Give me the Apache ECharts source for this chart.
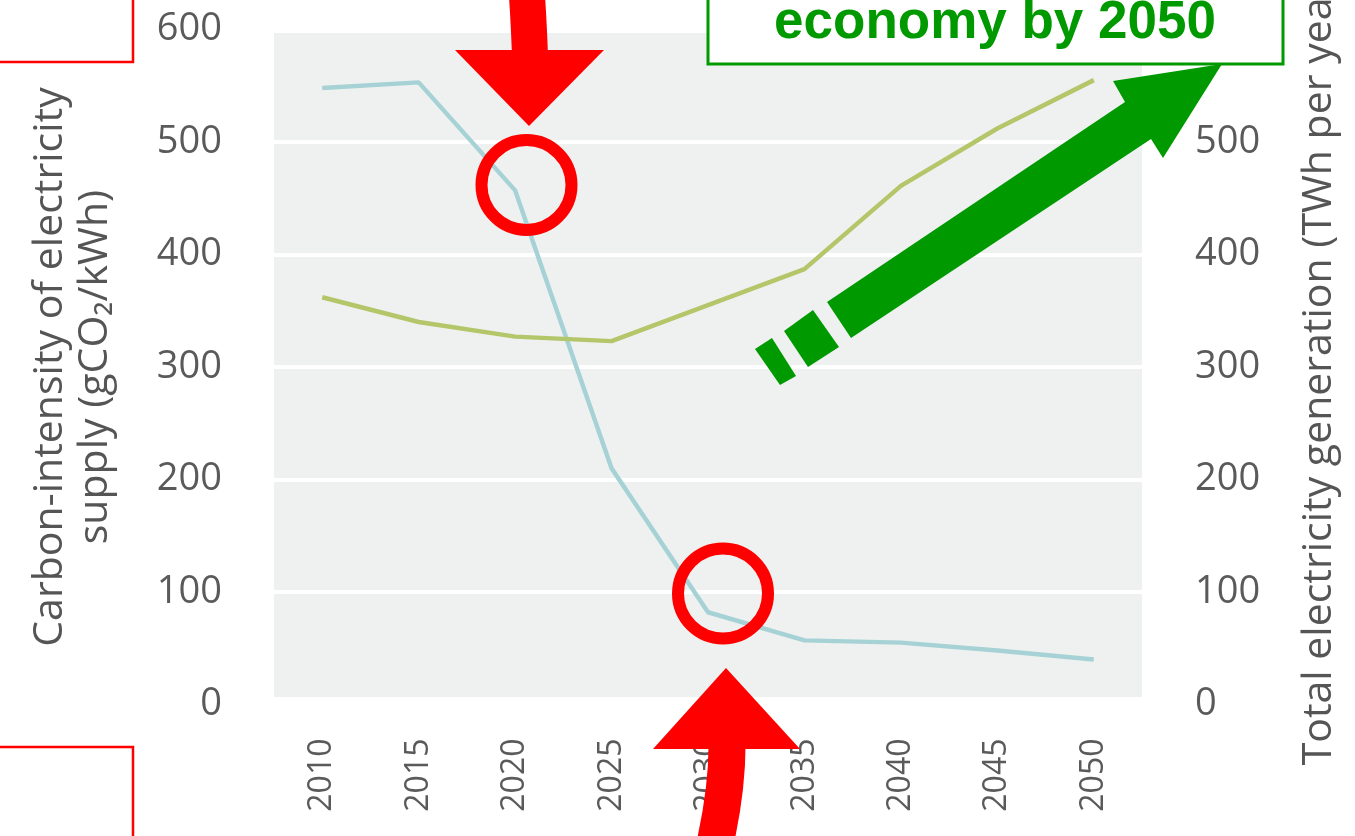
<!DOCTYPE html>
<html>
<head>
<meta charset="utf-8">
<script src="https://cdn.jsdelivr.net/npm/echarts@6/dist/echarts.min.js"></script>
<style>
  html, body { margin: 0; padding: 0; background: #ffffff; }
  #chart { width: 1355px; height: 836px; }
</style>
</head>
<body>
<div id="chart"></div>
<script>
// Years on the horizontal axis
const years = ['2010', '2015', '2020', '2025', '2030', '2035', '2040', '2045', '2050'];
// Carbon intensity of electricity supply, gCO2/kWh (left axis)
const carbonIntensity = [548, 553, 457, 210, 82, 57, 55, 48, 40];
// Total electricity generation, TWh per year (right axis)
const totalGeneration = [362, 340, 327, 323, 355, 387, 461, 512, 555];
// Shared tick settings for both value axes
const valueMin = 0;
const valueMax = 600;
const valueStep = 100;

const textGrey = '#5a5a5a';
const font = 'Open Sans';
const red = '#ff0000';
const green = '#009900';

const chart = echarts.init(document.getElementById('chart'), null, { renderer: 'canvas' });

chart.setOption({
  backgroundColor: '#ffffff',
  animation: false,
  grid: {
    left: 274, right: 213, top: 29.5, bottom: 131.5,
    containLabel: false, outerBoundsMode: 'none'
  },
  xAxis: {
    type: 'category',
    data: years,
    boundaryGap: true,
    axisLine: { show: false },
    axisTick: { show: false },
    axisLabel: { rotate: 90, margin: 34, fontSize: 32, color: textGrey, fontFamily: font, hideOverlap: false }
  },
  yAxis: [
    {
      type: 'value', min: valueMin, max: valueMax, interval: valueStep, position: 'left',
      name: 'Carbon-intensity of electricity\nsupply (gCO₂/kWh)',
      nameLocation: 'middle', nameGap: 156, nameMoveOverlap: false,
      nameTextStyle: { fontSize: 41, lineHeight: 45, color: '#555555', fontFamily: font, align: 'center' },
      axisLine: { show: false }, axisTick: { show: false },
      axisLabel: { margin: 52, fontSize: 38, color: textGrey, fontFamily: font },
      splitLine: { show: true, lineStyle: { color: '#ffffff', width: 4 } }
    },
    {
      type: 'value', min: valueMin, max: valueMax, interval: valueStep, position: 'right',
      name: 'Total electricity generation (TWh per year)',
      nameLocation: 'middle', nameGap: 155, nameMoveOverlap: false,
      nameTextStyle: { fontSize: 41, lineHeight: 45, color: '#555555', fontFamily: font },
      axisLine: { show: false }, axisTick: { show: false },
      axisLabel: { margin: 53, fontSize: 38, color: textGrey, fontFamily: font },
      splitLine: { show: false }
    }
  ],
  series: [
    {
      name: 'Carbon intensity', type: 'line', yAxisIndex: 0, data: carbonIntensity,
      symbol: 'none', lineStyle: { color: '#a6d2d6', width: 4.5 }, z: 3
    },
    {
      name: 'Total generation', type: 'line', yAxisIndex: 1, data: totalGeneration,
      symbol: 'none', lineStyle: { color: '#b3c66a', width: 4.5 }, z: 3
    }
  ],
  graphic: [
    // plot background panel
    { type: 'rect', z: -10, silent: true, shape: { x: 274, y: 33, width: 868, height: 664 },
      style: { fill: '#eff1f0' } },

    // callout boxes
    { type: 'rect', z: 100, shape: { x: -5, y: -5, width: 138, height: 67 },
      style: { fill: '#ffffff', stroke: red, lineWidth: 2.5 } },
    { type: 'rect', z: 100, shape: { x: -5, y: 747, width: 138, height: 110 },
      style: { fill: '#ffffff', stroke: red, lineWidth: 2.5 } },
    { type: 'rect', z: 100, shape: { x: 708, y: -10, width: 575, height: 74 },
      style: { fill: '#ffffff', stroke: green, lineWidth: 3 } },
    { type: 'text', z: 101, x: 995, y: 23,
      style: { text: 'economy by 2050', fill: green, font: 'bold 53px "Liberation Sans", Arial, sans-serif',
               align: 'center', verticalAlign: 'middle' } },

    // red arrow pointing down at 2020
    { type: 'bezierCurve', z: 100,
      shape: { x1: 524, y1: -40, cpx1: 528, cpy1: 0, x2: 530, y2: 56 },
      style: { stroke: red, lineWidth: 36, fill: null, lineCap: 'butt' } },
    { type: 'polygon', z: 100, shape: { points: [[455, 50], [604, 50], [529, 126]] },
      style: { fill: red } },
    { type: 'circle', z: 100, shape: { cx: 526.5, cy: 185, r: 45 },
      style: { fill: null, stroke: red, lineWidth: 12 } },

    // red arrow pointing up at 2030
    { type: 'bezierCurve', z: 100,
      shape: { x1: 727, y1: 740, cpx1: 728, cpy1: 800, x2: 706, y2: 880 },
      style: { stroke: red, lineWidth: 37, fill: null, lineCap: 'butt' } },
    { type: 'polygon', z: 100, shape: { points: [[653, 749], [800, 749], [726, 668]] },
      style: { fill: red } },
    { type: 'circle', z: 100, shape: { cx: 723, cy: 593.5, r: 45 },
      style: { fill: null, stroke: red, lineWidth: 12 } },

    // green rising arrow with dashed tail
    { type: 'polygon', z: 100,
      shape: { points: [[827, 302], [1125, 102], [1113, 81], [1222, 64], [1163, 158], [1151, 139], [851, 338]] },
      style: { fill: green } },
    { type: 'polygon', z: 100, shape: { points: [[784, 331], [813, 310], [839, 347], [808, 367]] },
      style: { fill: green } },
    { type: 'polygon', z: 100, shape: { points: [[755, 349], [772, 338], [796, 376], [780, 385]] },
      style: { fill: green } }
  ]
});
</script>
</body>
</html>
